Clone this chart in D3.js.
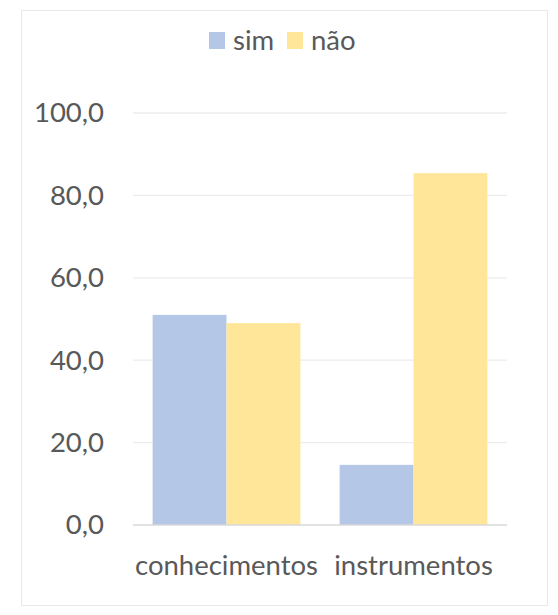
<!DOCTYPE html>
<html>
<head>
<meta charset="utf-8">
<script src="https://cdn.jsdelivr.net/npm/d3@7"></script>
<style>
  body { margin: 0; background: #fff; }
  text { font-family: Lato, "Open Sans", sans-serif; fill: #595959; }
</style>
</head>
<body>
<div id="chart"></div>
<script>
// data
var categories = ["conhecimentos", "instrumentos"];
var seriesNames = ["sim", "não"];
var sim = [51.0, 14.6];
var nao = [49.0, 85.4];
var yTicks = [0, 20, 40, 60, 80, 100];
var colors = ["#b4c7e7", "#ffe699"];

var W = 558, H = 615;
var fontSize = "27.5px";
var svg = d3.select("#chart").append("svg")
    .attr("width", W)
    .attr("height", H);

// chart frame
svg.append("rect")
    .attr("x", 21.5).attr("y", 10.5)
    .attr("width", 526).attr("height", 595)
    .style("fill", "#fff")
    .style("stroke", "#e8e8e8");

var plotLeft = 133, plotRight = 507, plotTop = 113, plotBottom = 525;

var x = d3.scaleBand().domain(categories).range([plotLeft, plotRight]).paddingInner(0.21).paddingOuter(0.105);
var xs = d3.scaleBand().domain(seriesNames).range([0, x.bandwidth()]);
var y = d3.scaleLinear().domain([0, 100]).range([plotBottom, plotTop]);

// gridlines
svg.append("g").selectAll("line")
    .data(yTicks.filter(function(d) { return d > 0; }))
    .enter().append("line")
    .attr("x1", plotLeft).attr("x2", plotRight)
    .attr("y1", function(d) { return y(d); })
    .attr("y2", function(d) { return y(d); })
    .style("stroke", "#ececec")
    .style("stroke-width", 1.3);

// y tick labels
var yAxis = d3.axisLeft(y).tickValues(yTicks).tickSize(0).tickPadding(29)
    .tickFormat(function(d) { return d3.format(".1f")(d).replace(".", ","); });
var gy = svg.append("g").attr("transform", "translate(" + plotLeft + ",0)").call(yAxis);
gy.select(".domain").remove();
gy.selectAll("text").style("font-size", fontSize).style("fill", "#595959").attr("font-family", "Lato");

// bars
var rows = categories.map(function(c, i) { return [sim[i], nao[i]]; });
var groups = svg.append("g").selectAll("g")
    .data(rows)
    .enter().append("g")
    .attr("transform", function(d, i) { return "translate(" + x(categories[i]) + ",0)"; });

groups.selectAll("rect")
    .data(function(d) { return d; })
    .enter().append("rect")
    .attr("x", function(d, j) { return xs(seriesNames[j]); })
    .attr("width", xs.bandwidth())
    .attr("y", function(d) { return y(d); })
    .attr("height", function(d) { return y(0) - y(d); })
    .style("fill", function(d, j) { return colors[j]; });

// baseline
svg.append("line")
    .attr("x1", plotLeft).attr("x2", plotRight)
    .attr("y1", y(0)).attr("y2", y(0))
    .style("stroke", "#d9d9d9")
    .style("stroke-width", 1.3);

// x labels
var xAxis = d3.axisBottom(x).tickSize(0).tickPadding(30);
var gx = svg.append("g").attr("transform", "translate(0," + plotBottom + ")").call(xAxis);
gx.select(".domain").remove();
gx.selectAll("text").style("font-size", fontSize).style("fill", "#595959").attr("font-family", "Lato");

// legend
var legend = svg.append("g");
var legX = [209, 287];
seriesNames.forEach(function(s, i) {
    legend.append("rect")
        .attr("x", legX[i]).attr("y", 32)
        .attr("width", 16).attr("height", 17)
        .style("fill", colors[i]);
    legend.append("text")
        .attr("x", legX[i] + 24).attr("y", 50)
        .style("font-size", fontSize)
        .text(s);
});
</script>
</body>
</html>
